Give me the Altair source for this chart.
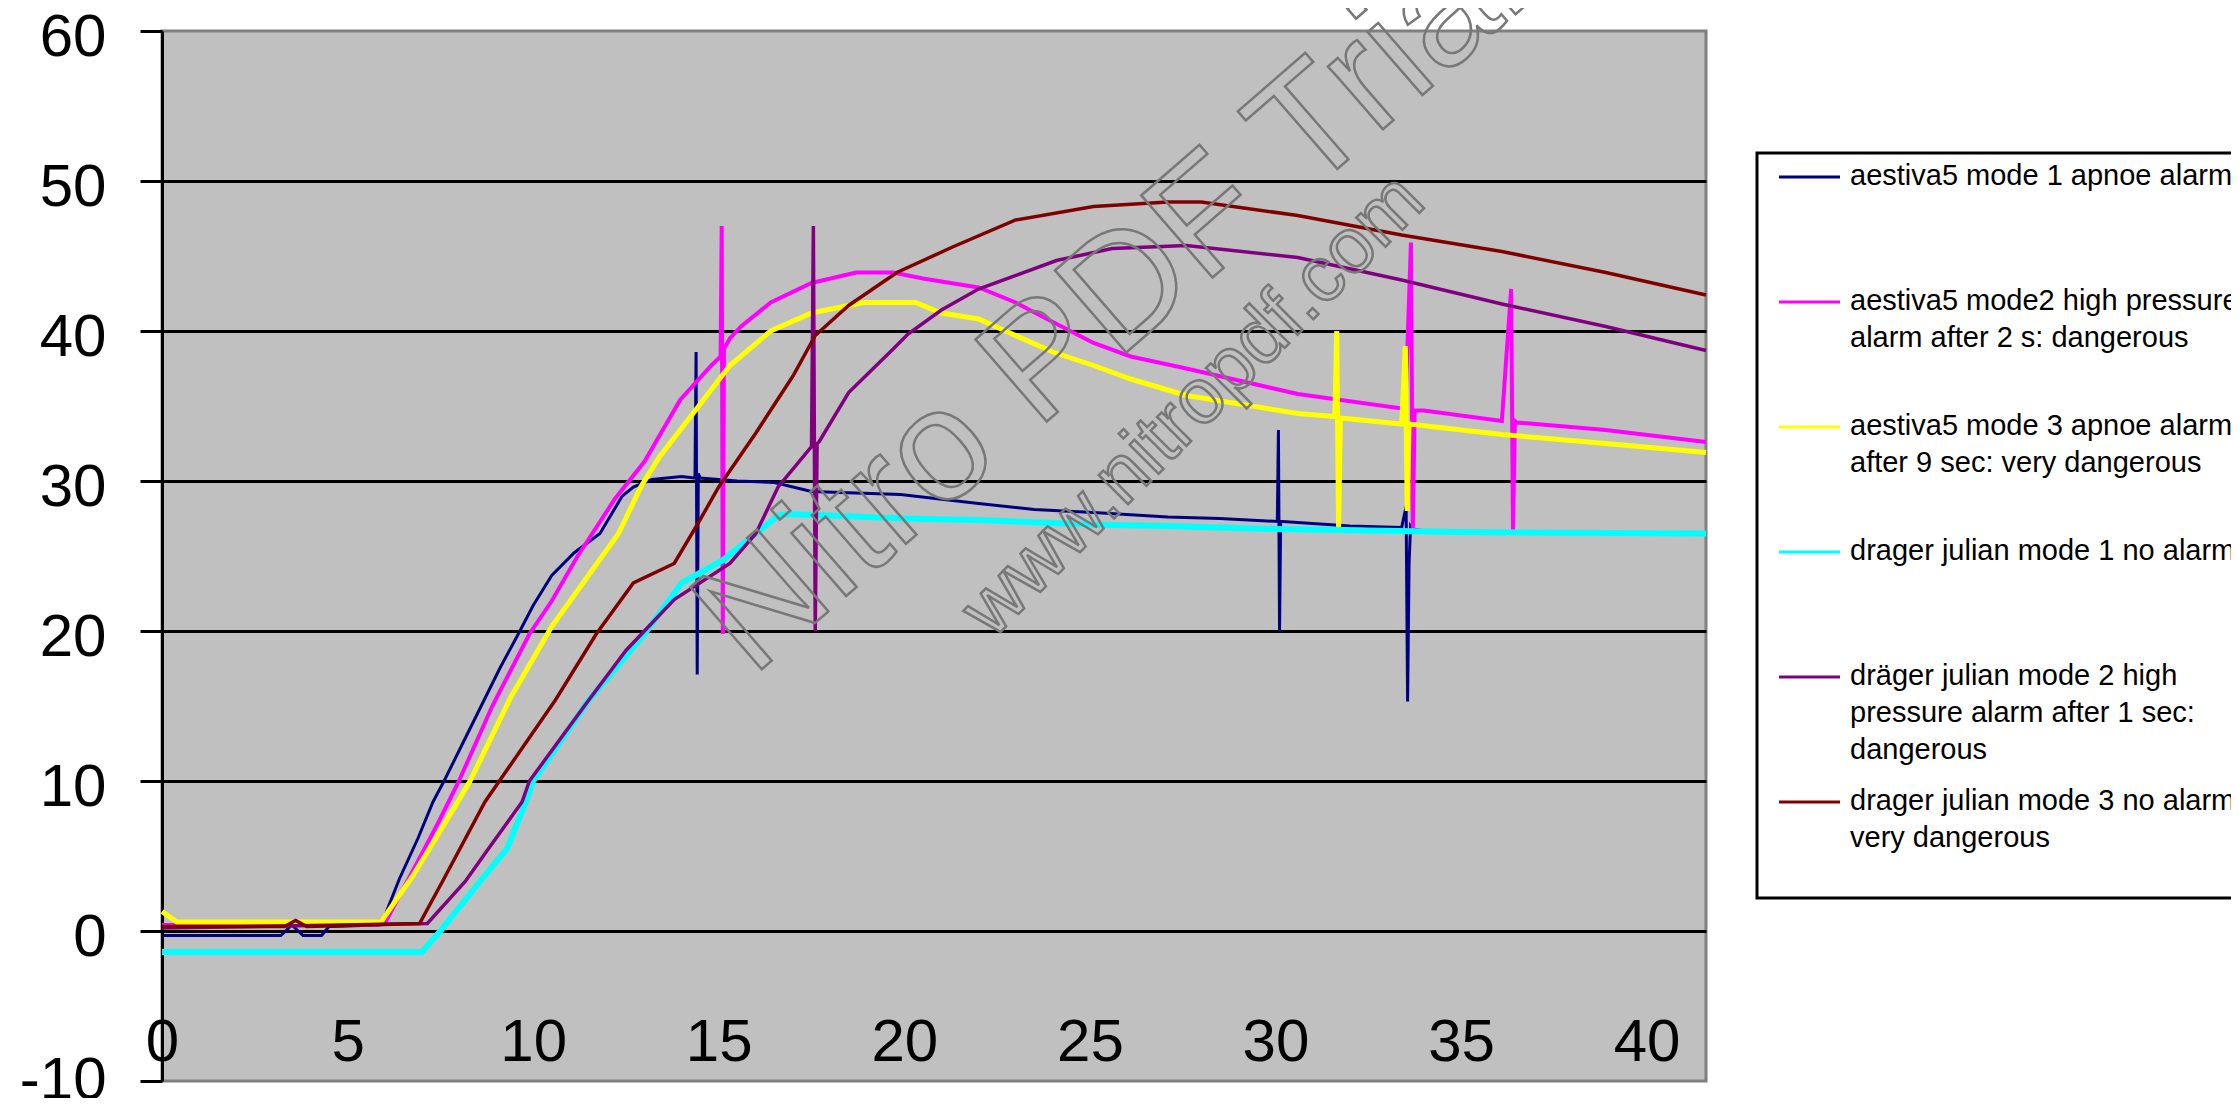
import altair as alt
import pandas as pd

# ---------------- data ----------------
PAD = "\u00a0" * 40  # invisible trailing spacer: widens the legend box past the right edge
SERIES = [
    "aestiva5 mode 1 apnoe alarm" + PAD + "||",
    "aestiva5 mode2 high pressure|alarm after 2 s: dangerous|",
    "aestiva5 mode 3 apnoe alarm|after 9 sec: very dangerous|",
    "drager julian mode 1 no alarm||",
    "dräger julian mode 2 high|pressure alarm after 1 sec:|dangerous",
    "drager julian mode 3 no alarm:|very dangerous|",
]
COLORS = ["#000080", "#FF00FF", "#FFFF00", "#00FFFF", "#800080", "#800000"]
WIDTHS = [3, 4, 5, 6, 3.5, 3.5]

navy_t = [0, 3.2, 3.5, 3.8, 4.3, 4.5, 5.8, 6.0, 6.4, 6.9, 7.3, 7.6, 8.1, 8.6, 9.1, 9.6, 10.0, 10.5,
          11.1, 11.8, 12.4, 12.7, 13.2, 14.0, 14.36, 14.39, 14.42, 14.45, 14.5, 15.5, 16.5, 17.5,
          19.9, 22.0, 23.5, 25.1, 27.1, 28.5, 30.05, 30.08, 30.11, 30.14, 30.2, 32.0, 33.4,
          33.52, 33.56, 33.6, 33.64, 33.7, 34.2, 36.0, 41.6]
navy_v = [-0.3, -0.3, 0.4, -0.3, -0.3, 0.3, 0.4, 1.0, 3.5, 6.2, 8.6, 10.0, 12.5, 15.0, 17.5, 19.8, 21.7, 23.7,
          25.2, 26.5, 29.0, 29.6, 30.1, 30.3, 30.2, 38.6, 17.1, 30.5, 30.2, 30.0, 29.9, 29.3,
          29.1, 28.5, 28.1, 27.9, 27.6, 27.5, 27.3, 33.4, 20.0, 27.3, 27.3, 27.0, 26.9,
          28.3, 15.3, 24.5, 27.0, 26.8, 26.6, 26.6, 26.5]

mag_t = [0, 5.8, 6.0, 6.8, 7.46, 8.0, 8.9, 9.9, 10.5, 11.2, 12.2, 13.0, 13.96, 14.8, 15.05, 15.08,
         15.11, 15.14, 15.3, 15.6, 16.4, 17.5, 18.7, 19.7, 20.5, 22.0, 23.0, 24.0, 25.1, 26.1, 27.6,
         30.6, 33.5, 33.65, 33.7, 33.75, 33.8, 34.0, 36.1, 36.35, 36.4, 36.45, 36.5, 38.9, 41.6]
mag_v = [0.4, 0.4, 0.5, 4.2, 7.3, 10.0, 15.0, 19.8, 22.0, 25.0, 28.8, 31.3, 35.4, 37.7, 38.3, 47.0,
         19.8, 38.8, 39.5, 40.3, 41.9, 43.2, 43.9, 43.9, 43.5, 42.9, 41.9, 40.6, 39.2, 38.3, 37.5,
         35.8, 34.8, 45.9, 26.5, 34.7, 34.7, 34.7, 34.0, 42.8, 26.5, 34.0, 33.9, 33.4, 32.6]

yel_t = [0, 0.4, 5.9, 6.74, 7.87, 8.3, 9.4, 10.5, 11.4, 12.3, 12.9, 13.4, 14.4, 15.3, 16.4, 17.5,
         18.9, 20.3, 21.0, 22.0, 23.0, 24.0, 25.1, 26.1, 27.6, 30.6, 31.6, 31.65, 31.7, 31.75,
         33.4, 33.5, 33.55, 33.6, 36.1, 38.9, 41.6]
yel_v = [1.3, 0.6, 0.6, 3.6, 8.2, 10.0, 15.6, 20.3, 23.4, 26.5, 29.6, 31.6, 34.8, 37.7, 40.0, 41.2,
         41.9, 41.9, 41.2, 40.8, 39.7, 38.6, 37.7, 36.8, 35.7, 34.5, 34.3, 40.0, 26.9, 34.2,
         33.8, 39.0, 28.0, 33.8, 33.1, 32.5, 31.9]

cyan_t = [0, 7.0, 7.5, 8.5, 9.3, 9.8, 10.0, 11.5, 13.0, 14.0, 15.1, 16.0, 16.6, 16.9, 20.0, 22.0,
          25.0, 27.1, 30.0, 35.0, 41.6]
cyan_v = [-1.4, -1.4, 0.0, 3.1, 5.5, 8.6, 10.0, 15.4, 19.8, 23.2, 24.7, 26.5, 27.7, 27.8, 27.5, 27.4,
          27.1, 27.0, 26.8, 26.6, 26.5]

pur_t = [0, 7.15, 8.17, 8.8, 9.7, 9.9, 11.5, 12.5, 13.8, 15.3, 16.0, 16.6, 17.5, 17.55, 17.6,
         17.65, 17.7, 18.5, 19.7, 20.1, 21.0, 22.0, 24.1, 25.6, 27.6, 30.6, 33.4, 36.1, 38.9, 41.6]
pur_v = [0.2, 0.5, 3.3, 5.5, 8.6, 10.0, 15.4, 18.7, 22.1, 24.5, 26.5, 29.6, 32.3, 47.0, 20.0,
         32.5, 32.6, 35.9, 38.8, 39.8, 41.4, 42.8, 44.7, 45.5, 45.7, 44.9, 43.4, 41.8, 40.3, 38.7]

mar_t = [0, 3.3, 3.6, 3.9, 6.94, 7.6, 8.7, 10.6, 11.7, 12.7, 13.8, 14.4, 15.0, 16.0, 17.0, 17.6,
         18.5, 19.8, 21.3, 23.0, 25.1, 27.1, 28.0, 30.6, 33.4, 36.1, 38.9, 41.6]
mar_v = [0.3, 0.3, 0.7, 0.3, 0.5, 3.5, 8.6, 15.4, 19.8, 23.2, 24.5, 27.0, 29.6, 33.2, 37.0, 39.7,
         41.7, 43.9, 45.6, 47.4, 48.3, 48.6, 48.6, 47.7, 46.4, 45.3, 43.9, 42.4]

X_TICKS = [0, 5, 10, 15, 20, 25, 30, 35, 40]
Y_TICKS = [-10, 0, 10, 20, 30, 40, 50, 60]

WM_TEXT = ["Nitro PDF Trial", "www.nitropdf.com"]
WM_X = [25.6, 27.8]
WM_Y = [41.9, 35.0]
WM_SIZE = [158, 78]
WM_ANGLE = [319, 315]

# ---------------- build table ----------------
ts = [navy_t, mag_t, yel_t, cyan_t, pur_t, mar_t]
vs = [navy_v, mag_v, yel_v, cyan_v, pur_v, mar_v]
rows = []
for name, w, t, v in zip(SERIES, WIDTHS, ts, vs):
    for a, b in zip(t, v):
        rows.append({"series": name, "t": a, "v": b, "w": w})
df = pd.DataFrame(rows)
wm_df = pd.DataFrame({"wt": WM_TEXT, "wx": WM_X, "wy": WM_Y, "ws": WM_SIZE, "wa": WM_ANGLE})

AX_FONT = "Liberation Sans"

x_axis = alt.Axis(values=X_TICKS, title=None, labelFont=AX_FONT, labelFontSize=60,
                  labelColor="black", labelFlush=False, labelOverlap=False, ticks=False,
                  domain=False, grid=False, labelPadding=-39, labelBaseline="middle",
                  labelAngle=0)
y_axis = alt.Axis(values=Y_TICKS, title=None, labelFont=AX_FONT, labelFontSize=60,
                  labelExpr="toString(datum.value)",
                  labelColor="black", labelPadding=34, tickSize=22, tickColor="black",
                  tickWidth=3, domainColor="black", domainWidth=3, grid=True,
                  gridColor="black", gridWidth=3,
                  gridOpacity={"condition": {"test": "datum.value == 60 || datum.value == -10",
                                             "value": 0}, "value": 1},
                  labelOffset={"condition": {"test": "datum.value == -10", "value": -1},
                               "value": 6},
                  labelBaseline="middle", labelAlign="right",
                  labelFlush=False, labelOverlap=False)

legend = alt.Legend(orient="none", legendX=1595, legendY=122, direction="vertical", title=None,
                    labelExpr="split(datum.label, '|')", labelFont="Liberation Sans",
                    labelFontSize=29, labelColor="black", labelLimit=3000,
                    labelBaseline="alphabetic", labelOffset=17,
                    symbolType="M-1.386,-0.34L1.386,-0.34", symbolSize=1936,
                    symbolStrokeWidth=3, symbolOffset=21,
                    rowPadding=21, gridAlign="all")

lines = alt.Chart(df).mark_line(interpolate="linear").encode(
    x=alt.X("t:Q", scale=alt.Scale(domain=[0, 41.6], nice=False, zero=False), axis=x_axis),
    y=alt.Y("v:Q", scale=alt.Scale(domain=[-10, 60], nice=False, zero=False), axis=y_axis),
    color=alt.Color("series:N", scale=alt.Scale(domain=SERIES, range=COLORS), sort=SERIES,
                    legend=legend),
    strokeWidth=alt.StrokeWidth("w:Q", scale=None),
)

wm = alt.Chart(wm_df).mark_text(font="Liberation Sans", fillOpacity=0, stroke="#787878",
                                strokeWidth=2.5, align="center", baseline="middle").encode(
    x="wx:Q", y="wy:Q", text="wt:N",
    size=alt.Size("ws:Q", scale=None),
    angle=alt.Angle("wa:Q", scale=None),
)

chart = alt.layer(lines, wm).properties(
    width=1544, height=1050,
    autosize=alt.AutoSizeParams(type="none"),
    padding={"left": 154, "top": 23, "right": 525, "bottom": 17},
    background="white",
).configure(
    style={"guide-label": {"lineHeight": 37}}
).configure_view(
    fill="#C0C0C0", stroke="#808080", strokeWidth=3
).configure_legend(
    padding=8, strokeColor="black", strokeWidth=3, fillColor="white"
)

chart.save("out.html", embed_options={"renderer": "svg", "actions": False})
